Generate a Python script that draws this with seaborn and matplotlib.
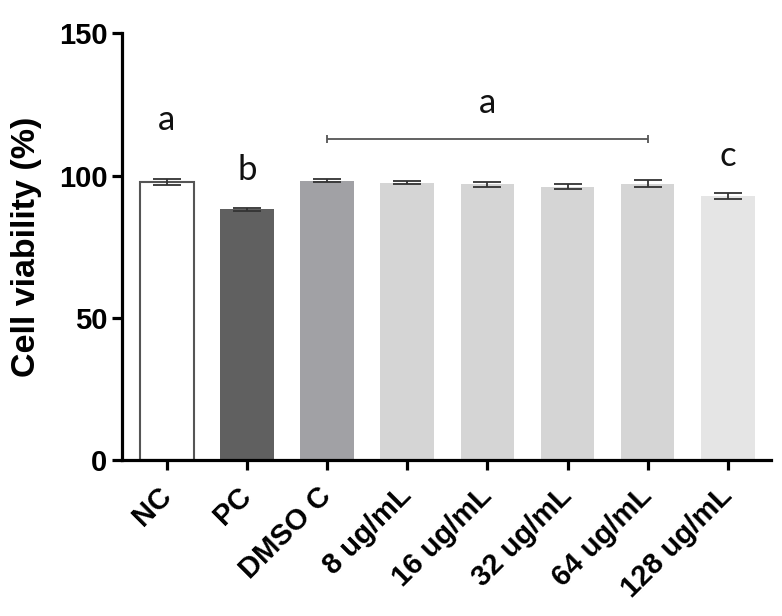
import matplotlib
matplotlib.use("Agg")
import matplotlib.pyplot as plt
import seaborn as sns
import numpy as np
import pandas as pd

# data
groups = ["NC", "PC", "DMSO C", "8 ug/mL", "16 ug/mL", "32 ug/mL", "64 ug/mL", "128 ug/mL"]
viability = [97.8, 88.1, 98.2, 97.5, 96.9, 96.1, 97.1, 92.9]
sem = [1.0, 0.6, 0.6, 0.6, 1.0, 0.8, 1.2, 1.0]
bar_colors = ["#ffffff", "#606060", "#a1a1a5", "#d5d5d5", "#d5d5d5", "#d5d5d5", "#d5d5d5", "#e5e5e5"]

# significance letters
letters = ["a", "b", "a", "c"]
letter_x = [0, 1, 4, 7]
letter_y = [119.5, 102.0, 125.5, 107.0]
bracket_span = [2, 6]
bracket_y = 113.0

sns.set_theme(style="ticks")
plt.rcParams["font.family"] = ["Liberation Sans", "DejaVu Sans"]

df = pd.DataFrame({"group": groups, "viability": viability})

fig = plt.figure(figsize=(7.82, 6.16), dpi=100)
ax = fig.add_axes([0.156, 0.253, 0.83, 0.693])

sns.barplot(data=df, x="group", y="viability", hue="group", palette=bar_colors,
            legend=False, width=0.67, errorbar=None, ax=ax, saturation=1)

# outline on the NC bar only
for i, patch in enumerate(ax.patches):
    if i == 0:
        patch.set_edgecolor("#555555")
        patch.set_linewidth(1.5)
    else:
        patch.set_edgecolor("none")

x = np.arange(len(groups))
ax.errorbar(x, viability, yerr=sem, fmt="none", ecolor="#333333",
            elinewidth=1.3, capsize=10, capthick=1.3, zorder=5)

# letters and bracket
for lx, ly, t in zip(letter_x, letter_y, letters):
    ax.text(lx, ly, t, ha="center", va="center", fontsize=25,
            family=["Lato", "DejaVu Sans"], color="#111111")
ax.errorbar([np.mean(bracket_span)], [bracket_y],
            xerr=[[np.mean(bracket_span) - bracket_span[0]], [bracket_span[1] - np.mean(bracket_span)]],
            fmt="none", ecolor="#555555", elinewidth=1.3, capsize=3, capthick=1.3)

ax.set_ylim(0, 150)
ax.set_xlim(-0.56, 7.54)
ax.set_yticks([0, 50, 100, 150])
ax.set_xlabel("")
ax.set_ylabel("Cell viability (%)", fontsize=24.5, fontweight="bold", labelpad=12, color="black")

ax.tick_params(axis="both", width=2.3, length=7.5, color="black", labelcolor="black")
ax.tick_params(axis="y", labelsize=21, pad=3)
ax.tick_params(axis="x", labelsize=21, pad=15)
for lbl in ax.get_yticklabels():
    lbl.set_fontweight("bold")
ax.set_xticks(x)
ax.set_xticklabels(groups, rotation=45, ha="right", va="center", rotation_mode="anchor",
                   fontweight="bold", fontsize=21, color="black")

sns.despine(ax=ax)
for side in ["left", "bottom"]:
    ax.spines[side].set_linewidth(2.3)
    ax.spines[side].set_color("black")

fig.savefig("out.png", dpi=100)
